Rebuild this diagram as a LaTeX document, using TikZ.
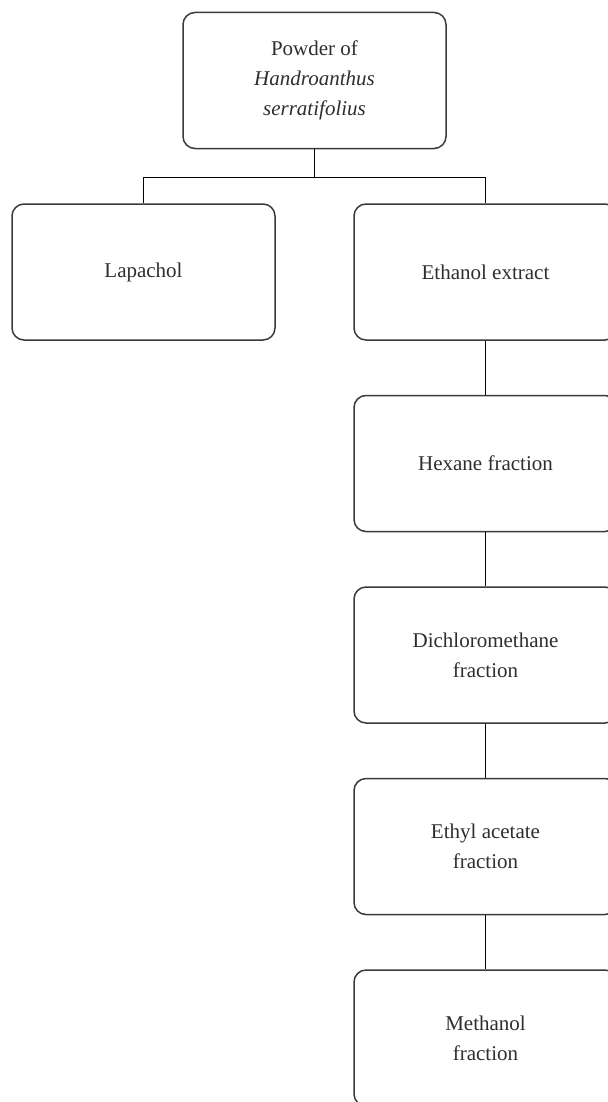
\documentclass[tikz,border=0pt]{standalone}
\usepackage{fontspec}
\setmainfont{Liberation Serif}
\usetikzlibrary{positioning}
\definecolor{boxgray}{HTML}{3A3A3A}
\definecolor{textgray}{HTML}{2E2E2E}
\begin{document}
\begin{tikzpicture}[node distance=27pt, auto]

        \tikzstyle{block} = [rectangle, rounded corners=6pt, draw=boxgray, line width=0.75pt, minimum width=131.5pt, minimum height=68pt, text centered, align=center, text=textgray, font=\fontsize{10.5}{15}\selectfont]
        \tikzstyle{line} = [draw=black, line width=0.5pt]

        \useasboundingbox (0,0) rectangle (304pt,-551pt);
        \clip (0,0) rectangle (304pt,-551pt);

        \node [block] (powder) at (157.25pt,-40.25pt) {Powder of\\\textit{Handroanthus}\\\textit{serratifolius}};
        \node [block, below=27pt of powder, xshift=-85.5pt] (lapachol) {Lapachol};
        \node [block, below=27pt of powder, xshift=85.5pt] (ethanol) {Ethanol extract};
        \node [block, below=of ethanol] (hexane) {Hexane fraction};
        \node [block, below=of hexane] (dichloro) {Dichloromethane\\fraction};
        \node [block, below=of dichloro] (ethyl) {Ethyl acetate\\fraction};
        \node [block, below=of ethyl] (methanol) {Methanol\\fraction};

        \coordinate [below=14pt of powder.south] (split);

        \draw [line] (powder.south) -- (split);
        \draw [line] (lapachol.north) |- (split) -| (ethanol.north);
        \draw [line] (ethanol.south) -- (hexane.north);
        \draw [line] (hexane.south) -- (dichloro.north);
        \draw [line] (dichloro.south) -- (ethyl.north);
        \draw [line] (ethyl.south) -- (methanol.north);

    \end{tikzpicture}
\end{document}
